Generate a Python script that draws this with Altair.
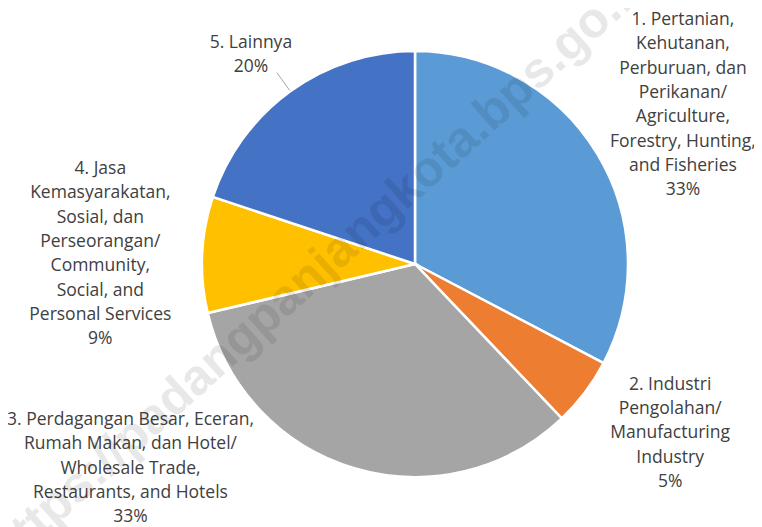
import math
import altair as alt
import pandas as pd

# ---- data ----
categories = [
    "1. Pertanian,\nKehutanan,\nPerburuan, dan\nPerikanan/\nAgriculture,\nForestry, Hunting,\nand Fisheries",
    "2. Industri\nPengolahan/\nManufacturing\nIndustry",
    "3. Perdagangan Besar, Eceran,\nRumah Makan, dan Hotel/\nWholesale Trade,\nRestaurants, and Hotels",
    "4. Jasa\nKemasyarakatan,\nSosial, dan\nPerseorangan/\nCommunity,\nSocial, and\nPersonal Services",
    "5. Lainnya",
]
values = [32.7, 5.2, 33.4, 8.8, 19.9]
colors = ["#5B9BD5", "#ED7D31", "#A5A5A5", "#FFC000", "#4472C4"]
watermark = "https://padangpanjangkota.bps.go.id"

df = pd.DataFrame({
    "idx": list(range(1, len(values) + 1)),
    "category": categories,
    "value": values,
})
total = df["value"].sum()
df["mid"] = df["value"].cumsum() - df["value"] / 2
df["label"] = [f"{c}\n{round(v / total * 100)}%" for c, v in zip(categories, values)]

# ---- layout ----
CX, CY = 407, 256
R = 213
FONT = "Open Sans"
FS = 17.5
LH = 24.3
TXT = "#404040"

theta_scale = alt.Scale(domain=[0, float(total)])

pie = alt.Chart(df).mark_arc(radius=R, stroke="white", strokeWidth=2.5).encode(
    theta=alt.Theta("value:Q", stack=True, scale=theta_scale),
    order=alt.Order("idx:Q"),
    color=alt.Color("category:N", scale=alt.Scale(domain=categories, range=colors), legend=None),
    x=alt.value(CX),
    y=alt.value(CY),
)


def label_layer(i, radius, dx=0, dy=0):
    n_lines = df.loc[df.idx == i, "label"].iloc[0].count("\n") + 1
    return alt.Chart(df).transform_filter(alt.datum.idx == i).mark_text(
        radius=radius, dx=dx, dy=dy - (n_lines - 1) * LH / 2, lineBreak="\n",
        font=FONT, fontSize=FS, lineHeight=LH, color=TXT,
        align="center", baseline="middle",
    ).encode(
        theta=alt.Theta("mid:Q", stack=None, scale=theta_scale),
        text="label:N",
        x=alt.value(CX),
        y=alt.value(CY),
    )


labels = [
    label_layer(1, 313, 0, 3),
    label_layer(2, 306, 11, -15),
    label_layer(3, 300, -199, -83),
    label_layer(4, 315, 0, 4),
    label_layer(5, 265, -9, 6),
]

# leader line for slice 5 (radial, at the slice's mid angle)
mid5 = float(df.loc[df.idx == 5, "mid"].iloc[0]) / total * 2 * math.pi
r_in, r_out = R + 1, R + 23
leader = alt.Chart(df).transform_filter(alt.datum.idx == 5).mark_rule(
    color="#A6A6A6", strokeWidth=1
).encode(
    x=alt.value(CX + r_in * math.sin(mid5)),
    y=alt.value(CY - r_in * math.cos(mid5)),
    x2=alt.value(CX + r_out * math.sin(mid5)),
    y2=alt.value(CY - r_out * math.cos(mid5)),
)

wm = alt.Chart(df).transform_filter(alt.datum.idx == 1).mark_text(
    angle=318, fontSize=50, fontWeight="bold", font="Liberation Sans",
    color="#000000", opacity=0.085, align="center", baseline="middle",
).encode(
    text=alt.value(watermark),
    x=alt.value(314),
    y=alt.value(258),
)

chart = alt.layer(pie, leader, *labels, wm).properties(
    width=746, height=519,
    autosize=alt.AutoSizeParams(type="none"),
    padding=0,
).configure_view(stroke=None)

chart.save("out.html", embed_options={"renderer": "svg", "actions": False})
